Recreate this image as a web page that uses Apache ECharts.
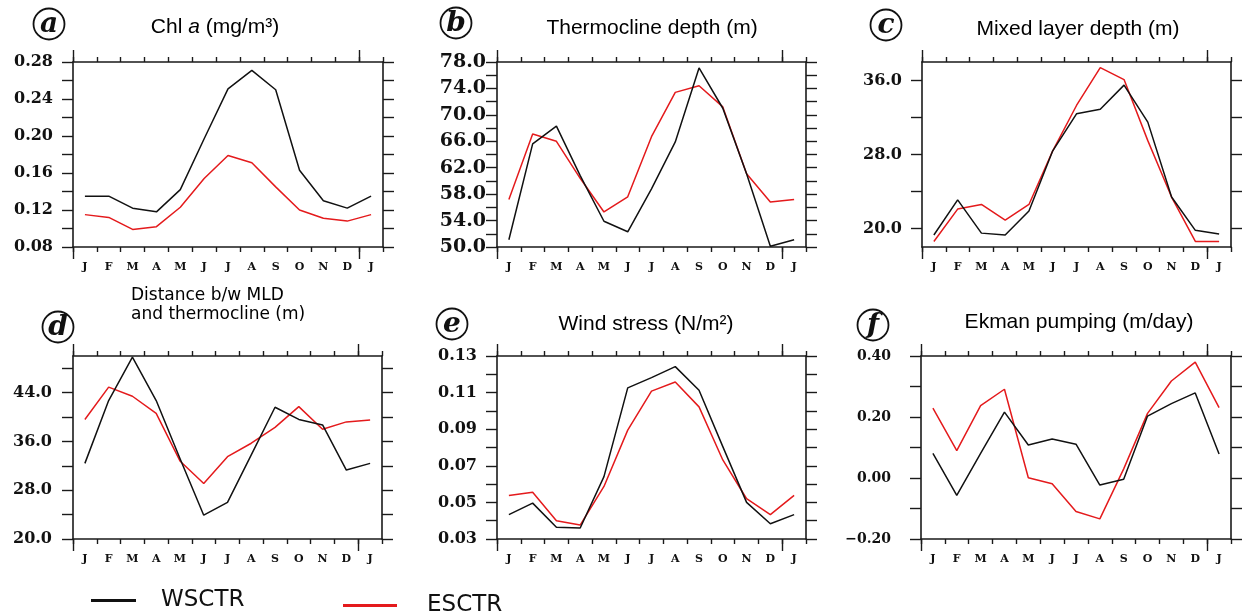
<!DOCTYPE html>
<html><head><meta charset="utf-8">
<script src="https://cdn.jsdelivr.net/npm/echarts@6/dist/echarts.min.js"></script>
<style>html,body{margin:0;padding:0;background:#fff}#c{width:1242px;height:616px}</style>
</head><body><div id="c"></div>
<script>
// ---- categories ----
const months = ['J','F','M','A','M','J','J','A','S','O','N','D','J'];
// ---- series values (WSCTR = black, ESCTR = red) ----
const chlW    = [0.135,0.135,0.122,0.118,0.142,0.197,0.251,0.271,0.250,0.163,0.130,0.122,0.135];
const chlE    = [0.115,0.112,0.099,0.102,0.123,0.154,0.179,0.171,0.145,0.120,0.111,0.108,0.115];
const thermoW = [51.1,65.6,68.3,60.8,53.9,52.3,58.8,65.9,77.1,71.0,61.1,50.1,51.1];
const thermoE = [57.2,67.1,66.0,60.4,55.3,57.6,66.7,73.4,74.4,71.2,61.1,56.8,57.2];
const mldW    = [19.3,23.1,19.5,19.3,21.9,28.4,32.4,32.9,35.5,31.5,23.4,19.8,19.4];
const mldE    = [18.6,22.1,22.6,20.9,22.6,28.4,33.3,37.4,36.1,29.5,23.4,18.6,18.6];
const distW   = [32.4,42.7,49.8,42.7,33.2,23.9,26.0,33.8,41.6,39.6,38.7,31.3,32.4];
const distE   = [39.6,44.9,43.4,40.6,32.8,29.1,33.5,35.7,38.3,41.7,38.0,39.2,39.5];
const windW   = [0.0433,0.0496,0.0364,0.0360,0.0641,0.1126,0.1182,0.1242,0.1113,0.0805,0.0500,0.0383,0.0433];
const windE   = [0.0538,0.0556,0.0400,0.0376,0.0587,0.0895,0.1108,0.1158,0.1022,0.0732,0.0520,0.0433,0.0538];
const ekmanW  = [0.081,-0.057,0.081,0.216,0.108,0.128,0.111,-0.023,-0.004,0.203,0.244,0.279,0.079];
const ekmanE  = [0.229,0.090,0.237,0.291,0.001,-0.019,-0.110,-0.134,0.030,0.212,0.318,0.380,0.231];
// ---- y tick marks and tick labels ----
const ticksA  = [0.08,0.10,0.12,0.14,0.16,0.18,0.20,0.22,0.24,0.26,0.28];
const labelsA = [0.08,0.12,0.16,0.20,0.24,0.28];
const ticksB  = [50,52,54,56,58,60,62,64,66,68,70,72,74,76,78];
const labelsB = [50,54,58,62,66,70,74,78];
const ticksC  = [20,24,28,32,36];
const labelsC = [20,28,36];
const ticksD  = [20,24,28,32,36,40,44,48];
const labelsD = [20,28,36,44];
const ticksE  = [0.03,0.04,0.05,0.06,0.07,0.08,0.09,0.10,0.11,0.12,0.13];
const labelsE = [0.03,0.05,0.07,0.09,0.11,0.13];
const ticksF  = [-0.2,-0.1,0,0.1,0.2,0.3,0.4];
const labelsF = [-0.2,0,0.2,0.4];
// ---- long (major) x ticks at category boundaries ----
const majorXTicks = [0,12];
const legendNames = ['WSCTR','ESCTR'];

const panels = [
  {W:chlW, E:chlE, min:0.08, max:0.28, ticks:ticksA, labels:labelsA, dec:2,
   grid:{left:73,top:62,width:310,height:185}, lm:20, lfs:16, letter:'a', cx:49, cy:24},
  {W:thermoW, E:thermoE, min:50, max:78, ticks:ticksB, labels:labelsB, dec:1,
   grid:{left:497,top:62,width:309,height:185}, lm:11, lfs:19, letter:'b', cx:456, cy:23},
  {W:mldW, E:mldE, min:18, max:38, ticks:ticksC, labels:labelsC, dec:1,
   grid:{left:922,top:62,width:309,height:185}, lm:20, lfs:16, letter:'c', cx:886, cy:25},
  {W:distW, E:distE, min:20, max:50, ticks:ticksD, labels:labelsD, dec:1,
   grid:{left:73,top:356,width:309,height:183}, lm:21, lfs:16, letter:'d', cx:58, cy:327},
  {W:windW, E:windE, min:0.03, max:0.13, ticks:ticksE, labels:labelsE, dec:2,
   grid:{left:497,top:356,width:309,height:183}, lm:20, lfs:16, letter:'e', cx:452, cy:324},
  {W:ekmanW, E:ekmanE, min:-0.2, max:0.4, ticks:ticksF, labels:labelsF, dec:2,
   grid:{left:921,top:356,width:310,height:183}, lm:30, lfs:14, letter:'f', cx:873, cy:325}
];

const AX = '#1a1a1a';
const axLine = {lineStyle:{color:AX, width:1.6}};
const tickStyle = {color:AX, width:1.4};
const fmt = (v, d) => (v < 0 ? '\u2212' : '') + Math.abs(v).toFixed(d);

const grids = [], xAxes = [], yAxes = [], series = [];
panels.forEach((p, i) => {
  grids.push(Object.assign({containLabel:false, outerBoundsMode:'none'}, p.grid));
  ['bottom','top'].forEach(pos => {
    xAxes.push({type:'category', gridIndex:i, data:months, position:pos, boundaryGap:true,
      axisLine:{show:true, onZero:false, lineStyle:axLine.lineStyle},
      axisTick:{show:true, interval:0, length:5, lineStyle:tickStyle},
      axisLabel:{show:pos==='bottom', interval:0, margin:15, fontFamily:'DejaVu Serif', fontWeight:'bold', fontSize:11, color:'#111'},
      splitLine:{show:false}});
  });
  ['bottom','top'].forEach(pos => {
    xAxes.push({type:'value', gridIndex:i, min:0, max:13, position:pos,
      axisLine:{show:false, onZero:false},
      axisTick:{show:true, length:12, customValues:majorXTicks, lineStyle:tickStyle},
      axisLabel:{show:false}, splitLine:{show:false}});
  });
  ['left','right'].forEach(pos => {
    yAxes.push({type:'value', gridIndex:i, position:pos, min:p.min, max:p.max,
      axisLine:{show:true, onZero:false, lineStyle:axLine.lineStyle},
      axisTick:{show:true, length:11, customValues:p.ticks, lineStyle:tickStyle},
      axisLabel:{show:pos==='left', customValues:p.labels, formatter:v => fmt(v, p.dec), margin:p.lm,
        fontFamily:'DejaVu Serif', fontWeight:'bold', fontSize:p.lfs, color:'#111'},
      splitLine:{show:false}});
  });
  series.push({name:legendNames[1], type:'line', xAxisIndex:4*i, yAxisIndex:2*i, data:p.E,
    symbol:'none', lineStyle:{color:'#e41a1c', width:1.5}, itemStyle:{color:'#e41a1c'}, z:3});
  series.push({name:legendNames[0], type:'line', xAxisIndex:4*i, yAxisIndex:2*i, data:p.W,
    symbol:'none', lineStyle:{color:'#111', width:1.5}, itemStyle:{color:'#111'}, z:4});
});

const tFont = {fontFamily:'Liberation Sans', fontSize:21, fontWeight:'normal', color:'#000', lineHeight:24};
const titles = [
  {text:'{n|Chl }{i|a}{n| (mg/m\u00b3)}', left:215, top:15},
  {text:'Thermocline depth (m)', left:652, top:16},
  {text:'Mixed layer depth (m)', left:1078, top:17},
  {text:'Wind stress (N/m\u00b2)', left:646, top:312},
  {text:'Ekman pumping (m/day)', left:1079, top:310}
].map(t => Object.assign(t, {textAlign:'center', padding:0,
  textStyle:Object.assign({}, tFont, {rich:{n:Object.assign({}, tFont), i:Object.assign({}, tFont, {fontStyle:'italic'})}})}));
titles.push({text:'Distance b/w MLD\nand thermocline (m)', left:131, top:286, padding:0, textAlign:'left',
  textStyle:{fontFamily:'DejaVu Sans', fontSize:17, fontWeight:'normal', color:'#000', lineHeight:19}});

const graphic = [];
panels.forEach(p => {
  graphic.push({type:'circle', shape:{cx:p.cx, cy:p.cy, r:15.5}, style:{fill:'#fff', stroke:'#111', lineWidth:1.8}, z:10});
  graphic.push({type:'text', x:p.cx, y:p.cy+1, z:11,
    style:{text:p.letter, fontFamily:'DejaVu Serif', fontStyle:'italic', fontWeight:'bold', fontSize:28,
      fill:'#111', align:'center', verticalAlign:'middle'}});
});

const legTxt = {fontFamily:'DejaVu Sans', fontSize:23, color:'#111'};
const option = {
  animation:false,
  backgroundColor:'#fff',
  title:titles,
  grid:grids, xAxis:xAxes, yAxis:yAxes, series:series,
  legend:[
    {data:[legendNames[0]], left:91, top:589, icon:'rect', itemWidth:45, itemHeight:3, padding:0, selectedMode:false,
     textStyle:Object.assign({padding:[0,0,0,20]}, legTxt)},
    {data:[legendNames[1]], left:343, top:594, icon:'rect', itemWidth:54, itemHeight:3, padding:0, selectedMode:false,
     textStyle:Object.assign({padding:[0,0,0,25]}, legTxt)}
  ],
  graphic:graphic
};
const chart = echarts.init(document.getElementById('c'), null, {renderer:'canvas'});
chart.setOption(option);
</script></body></html>
